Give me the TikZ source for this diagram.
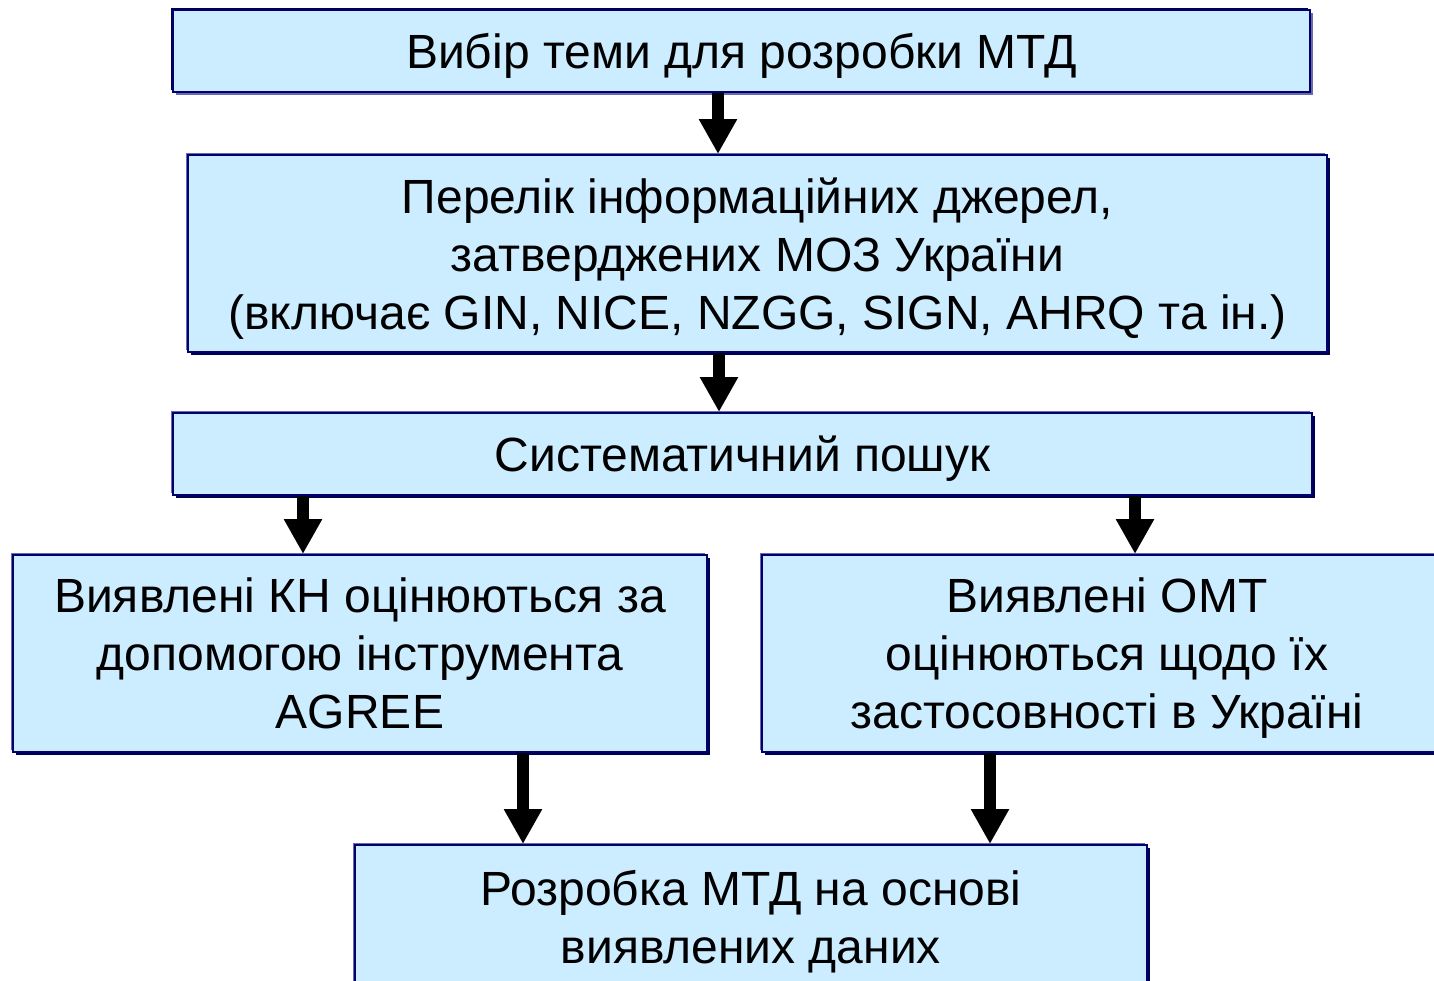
\documentclass[tikz,border=0pt]{standalone}
\usepackage{fontspec}
\setmainfont{Liberation Sans}
\usetikzlibrary{arrows.meta,shadows}

\definecolor{boxfill}{RGB}{204,236,255}
\definecolor{boxline}{RGB}{0,0,110}
\definecolor{boxdark}{RGB}{0,0,80}
\definecolor{boxlight}{RGB}{105,105,175}

\tikzset{
	stage/.style={draw=boxline,line width=1pt,fill=boxfill,inner sep=0pt,align=center,
		font=\fontsize{24}{29}\selectfont,text depth=0pt,
		general shadow={fill=boxlight,shadow xshift=-1pt,shadow yshift=1pt},
		general shadow={fill=boxdark,shadow xshift=1.5pt,shadow yshift=-1.5pt}},
	topstage/.style={stage,
		general shadow={fill=boxlight,shadow xshift=1.5pt,shadow yshift=-1.5pt},
		general shadow={fill=boxdark,shadow xshift=-1pt,shadow yshift=1pt}},
	bigarrow/.style={line width=6pt,-{Triangle[length=17.5pt,width=18pt]}}
}

\begin{document}
\begin{tikzpicture}[x=0.5pt,y=-0.5pt]
	\useasboundingbox (0,0) rectangle (1434,980);

	%stages
	\node[topstage,minimum width=568.5pt,minimum height=41pt] (b1) at (741.5,51)
		{Вибір теми для розробки МТД};
	\node[stage,minimum width=569.5pt,minimum height=98.5pt] (b2) at (757.5,253.5)
		{Перелік інформаційних джерел,\\затверджених МОЗ України\\(включає GIN, NICE, NZGG, SIGN, AHRQ та ін.)};
	\node[stage,minimum width=569.5pt,minimum height=41pt] (b3) at (742.5,454)
		{Систематичний пошук};
	%
	\node[stage,minimum width=347pt,minimum height=98.5pt] (b4) at (360,653.5)
		{Виявлені КН оцінюються за\\допомогою інструмента\\AGREE};
	\node[stage,minimum width=345pt,minimum height=98.5pt] (b5) at (1107,653.5)
		{Виявлені ОМТ\\оцінюються щодо їх\\застосовності в Україні};
	%
	\node[stage,minimum width=396pt,minimum height=71.5pt] (b6) at (751,916.5)
		{Розробка МТД на основі\\виявлених даних};

	%arrows
	\foreach \s/\t/\x in {b1/b2/718, b2/b3/719, b3/b4/303, b3/b5/1135, b4/b6/523, b5/b6/990}
	{
		\coordinate (ax) at (\x,0);
		\draw[bigarrow] (\s.south -| ax) -- (\t.north -| ax);
	}
\end{tikzpicture}
\end{document}
